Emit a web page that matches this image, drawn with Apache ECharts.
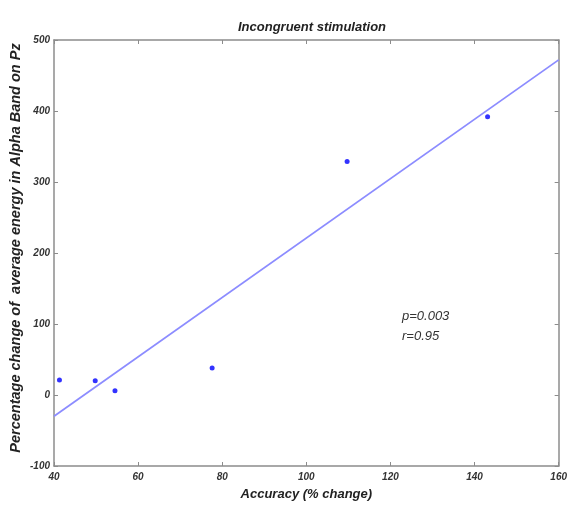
<!DOCTYPE html>
<html><head><meta charset="utf-8">
<script src="https://cdn.jsdelivr.net/npm/echarts@6/dist/echarts.min.js"></script>
<style>html,body{margin:0;padding:0;background:#fff}#c{width:570px;height:506px}</style>
</head><body><div id="c"></div>
<script>
var accuracy = [41.3, 49.8, 54.5, 77.6, 109.7, 143.1];
var energy = [21, 20, 6, 38, 329, 392];
var fitX = [40, 160];
var fitY = [-30, 472];
var xTicks = [40, 60, 80, 100, 120, 140, 160];
var yTicks = [-100, 0, 100, 200, 300, 400, 500];
var titleText = 'Incongruent stimulation';
var xLabel = 'Accuracy (% change)';
var yLabel = 'Percentage change of  average energy in Alpha Band on Pz';
var annot = ['p=0.003', 'r=0.95'];

var font = 'Liberation Sans, Arial, sans-serif';
var axisCol = '#8c8c8c';
function baseAxis(show) {
  return {
    axisLine: {show: true, onZero: false, lineStyle: {color: axisCol, width: 1.5}},
    axisTick: {show: true, inside: true, length: 4, lineStyle: {color: axisCol}},
    splitLine: {show: false},
    axisLabel: {show: show, color: '#333', fontFamily: font, fontStyle: 'italic', fontWeight: 'bold', fontSize: 10}
  };
}
var nameStyle = {fontFamily: font, fontSize: 13, fontWeight: 'bold', fontStyle: 'italic', color: '#222'};
var chart = echarts.init(document.getElementById('c'));
var fitData = fitX.map(function (x, i) { return [x, fitY[i]]; });
var ptData = accuracy.map(function (x, i) { return [x, energy[i]]; });
chart.setOption({
  animation: false,
  title: {text: titleText, left: 307, top: 16, textAlign: 'center',
    textStyle: {fontFamily: font, fontSize: 13, fontWeight: 'bold', fontStyle: 'italic', color: '#222'}},
  grid: {left: 54, right: 8, top: 40, bottom: 38},
  xAxis: [
    Object.assign(baseAxis(true), {type: 'value', min: 40, max: 160, interval: 20, position: 'bottom',
      name: xLabel, nameLocation: 'middle', nameGap: 22, nameTextStyle: nameStyle,
      axisLabel: Object.assign(baseAxis(true).axisLabel, {margin: 6})}),
    Object.assign(baseAxis(false), {type: 'value', min: 40, max: 160, interval: 20, position: 'top'})
  ],
  yAxis: [
    Object.assign(baseAxis(true), {type: 'value', min: -100, max: 500, interval: 100, position: 'left',
      axisLabel: Object.assign(baseAxis(true).axisLabel, {margin: 4})}),
    Object.assign(baseAxis(false), {type: 'value', min: -100, max: 500, interval: 100, position: 'right'})
  ],
  series: [
    {type: 'line', data: fitData, symbol: 'none', lineStyle: {color: '#8c8cff', width: 1.8}, z: 2},
    {type: 'scatter', data: ptData, symbol: 'circle', symbolSize: 5, itemStyle: {color: '#0000ff'}, z: 3}
  ],
  graphic: [
    {type: 'text', x: 16, y: 248, rotation: Math.PI / 2,
      style: {text: yLabel, font: 'italic bold 14.5px ' + font, fill: '#222', align: 'center', verticalAlign: 'middle'}},
    {type: 'text', left: 402, top: 310, style: {text: annot[0], font: 'italic 13px ' + font, fill: '#333'}},
    {type: 'text', left: 402, top: 330, style: {text: annot[1], font: 'italic 13px ' + font, fill: '#333'}}
  ]
});
</script></body></html>
